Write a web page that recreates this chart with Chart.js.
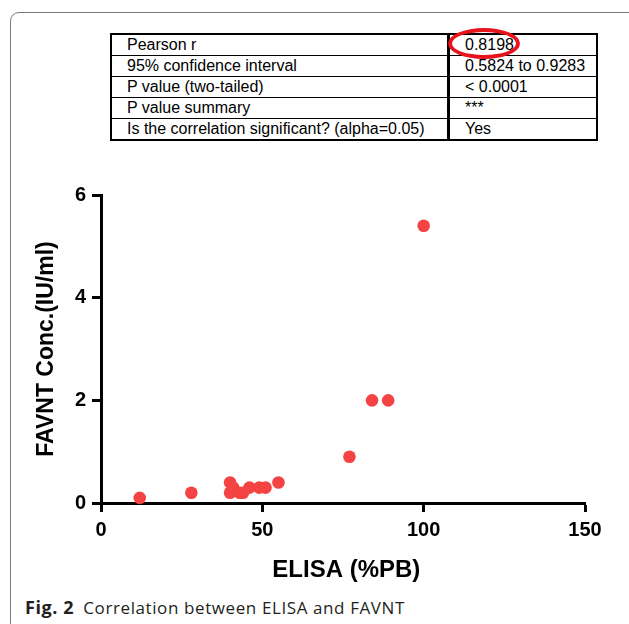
<!DOCTYPE html>
<html>
<head>
<meta charset="utf-8">
<script src="https://cdn.jsdelivr.net/npm/chart.js@4"></script>
<style>
  body { margin: 0; background: #fff; width: 629px; height: 624px; overflow: hidden; position: relative; }
  .frame { position: absolute; left: 10px; top: 12px; width: 660px; height: 660px; border: 1px solid #7a7a7a; border-radius: 9px; }
  table.stats { position: absolute; left: 110px; top: 33px; width: 488px; border-collapse: collapse;
    font: 16px "Liberation Sans", Arial, sans-serif; color: #000; border: 2px solid #000; }
  table.stats td { height: 20px; padding: 0 0 0 15px; border-top: 1px solid #000; line-height: 20px; white-space: nowrap; }
  table.stats td:first-child { width: 320px; border-right: 3px solid #000; }
  .ring { position: absolute; left: 448px; top: 28px; width: 64px; height: 23px; border: 4px solid #e8141c; border-radius: 50%; }
  #chart { position: absolute; left: 0; top: 170px; }
  .caption { position: absolute; left: 25px; top: 595px; font: 17px "Open Sans", sans-serif; color: #231f20; white-space: nowrap; }
  .caption b { font-weight: 700; font-size: 18px; letter-spacing: 0.6px; margin-right: 9px; }
  .caption span { letter-spacing: 0.6px; }
</style>
</head>
<body>
<div class="frame"></div>
<table class="stats">
  <tr><td>Pearson r</td><td>0.8198</td></tr>
  <tr><td>95% confidence interval</td><td>0.5824 to 0.9283</td></tr>
  <tr><td>P value (two-tailed)</td><td>&lt; 0.0001</td></tr>
  <tr><td>P value summary</td><td>***</td></tr>
  <tr><td>Is the correlation significant? (alpha=0.05)</td><td>Yes</td></tr>
</table>
<div class="ring"></div>
<canvas id="chart" width="629" height="420"></canvas>
<div class="caption"><b>Fig. 2</b><span>Correlation between ELISA and FAVNT</span></div>

<script>
// ELISA (%PB) vs FAVNT concentration
const elisa = [12, 28, 40, 40, 41, 43, 44, 46, 49, 51, 55, 77, 84, 89, 100];
const favnt = [0.1, 0.2, 0.4, 0.2, 0.3, 0.2, 0.2, 0.3, 0.3, 0.3, 0.4, 0.9, 2.0, 2.0, 5.4];
const xTicks = [0, 50, 100, 150];
const yTicks = [0, 2, 4, 6];

const points = elisa.map((x, i) => ({ x: x, y: favnt[i] }));
const tickFont = { family: '"Liberation Sans", Arial, sans-serif', size: 20, weight: 'bold' };
const titleFont = { family: '"Liberation Sans", Arial, sans-serif', size: 23, weight: 'bold' };

const axisGrid = {
  display: true,
  drawOnChartArea: false,
  drawTicks: true,
  tickLength: 9,
  tickWidth: 3,
  tickColor: '#000',
};

new Chart(document.getElementById('chart').getContext('2d'), {
  type: 'scatter',
  data: {
    datasets: [{
      data: points,
      backgroundColor: '#f44343',
      borderWidth: 0,
      pointRadius: 6.3,
      clip: false,
    }],
  },
  options: {
    responsive: false,
    animation: false,
    layout: { padding: { top: 25, right: 44, left: 0, bottom: 0 } },
    plugins: { legend: { display: false }, tooltip: { enabled: false } },
    scales: {
      x: {
        type: 'linear',
        min: xTicks[0],
        max: xTicks[xTicks.length - 1],
        afterBuildTicks: (s) => { s.ticks = xTicks.map(v => ({ value: v })); },
        afterFit: (s) => { s.height = 87; },
        border: { display: true, width: 3, color: '#000' },
        grid: axisGrid,
        ticks: { color: '#000', font: tickFont, padding: 6, maxRotation: 0 },
        title: { display: true, text: ' ELISA (%PB)', color: '#000', font: { ...titleFont, size: 24 }, padding: { top: 0, bottom: 5 } },
      },
      y: {
        type: 'linear',
        min: yTicks[0],
        max: yTicks[yTicks.length - 1],
        afterBuildTicks: (s) => { s.ticks = yTicks.map(v => ({ value: v })); },
        afterFit: (s) => { s.width = 101; },
        border: { display: true, width: 3, color: '#000' },
        grid: axisGrid,
        ticks: { color: '#000', font: tickFont, padding: 6 },
        title: { display: true, text: 'FAVNT Conc.(IU/ml)', color: '#000', font: titleFont, padding: { top: 33, bottom: 0 } },
      },
    },
  },
});
</script>
</body>
</html>
